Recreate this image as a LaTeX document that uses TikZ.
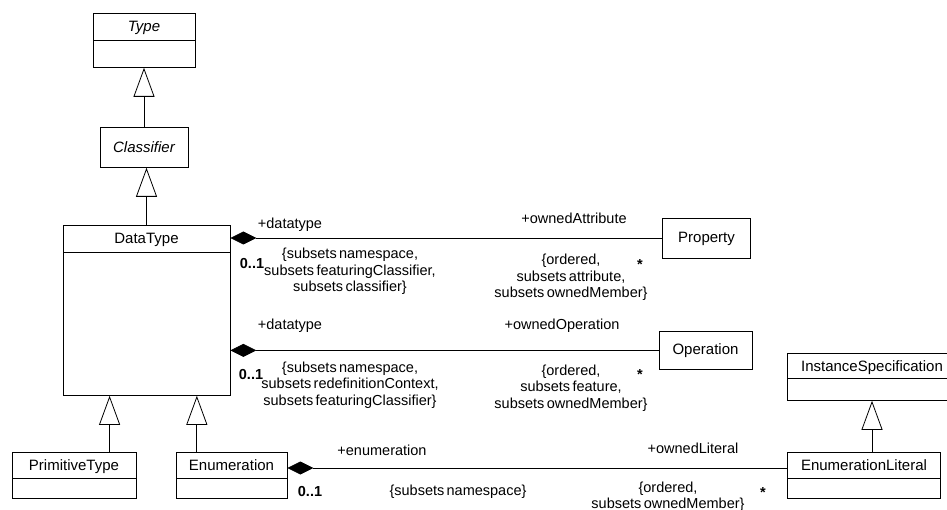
\documentclass[tikz,border=0pt]{standalone}
\usepackage{fontspec}
\setmainfont{Liberation Sans}
\usetikzlibrary{arrows.meta}
\usetikzlibrary{calc}
\newcommand\lblfont{\fontsize{14.5}{16.5}\selectfont\spaceskip=0.16em plus 0.05em\relax}
\tikzset{l/.style={font=\lblfont, inner sep=0pt, align=center}}
\tikzset{box/.style={draw, line width=0.8pt, inner sep=0pt, anchor=north, font=\fontsize{15}{16.5}\selectfont}}
\tikzset{cls/.style={box, text height=18.5pt,
  path picture={\draw[line width=0.8pt] ([yshift=-#1]path picture bounding box.north west) -- ([yshift=-#1]path picture bounding box.north east);}}}
\tikzset{gen/.style={-{Triangle[open, length=29pt, width=21pt, fill=white]}, line width=0.8pt}}
\tikzset{comp/.style={{Diamond[length=26pt, width=13pt]}-, line width=0.8pt}}

\begin{document}
\begin{tikzpicture}[x=1pt, y=-1pt]
  \useasboundingbox (0,0) rectangle (947,510);
  % classes
  \node[cls=27pt, minimum width=102pt, text depth=35.5pt] (T) at (144,13) {\itshape Type};
  \node[box, minimum width=88pt, minimum height=40pt] (C) at (144,127) {\itshape Classifier};
  \node[cls=27pt, minimum width=167pt, text depth=151.5pt] (D) at (146.5,225) {DataType};
  \node[cls=26pt, minimum width=124pt, text depth=27.5pt] (PT) at (74,452) {PrimitiveType};
  \node[cls=26pt, minimum width=111pt, text depth=27.5pt] (E) at (231.5,452) {Enumeration};
  \node[box, minimum width=88pt, minimum height=40pt] (P) at (706.5,218) {Property};
  \node[box, minimum width=93pt, minimum height=38pt] (O) at (705.5,331) {Operation};
  \node[cls=25pt, minimum width=170pt, text depth=28.5pt] (I) at (872,353) {InstanceSpecification};
  \node[cls=26pt, minimum width=153pt, text depth=27.5pt] (EL) at (864,452) {EnumerationLiteral};

  % generalizations
  \coordinate (g1) at ($(D.south west)!0.28!(D.south east)$);
  \coordinate (g2) at ($(D.south west)!0.80!(D.south east)$);
  \draw[gen] (C) -- (T);
  \draw[gen] (D.north) -- (D.north |- C.south);
  \draw[gen] (PT.north -| g1) -- (g1);
  \draw[gen] (E.north -| g2) -- (g2);
  \draw[gen] (EL.north -| I.south) -- (I.south);

  % compositions
  \draw[comp] ([yshift=-13pt]D.north east) -- ([yshift=-13pt]D.north east -| P.west);
  \draw[comp] (D.east |- O.west) -- (O.west);
  \draw[comp] ([yshift=-16pt]E.north east) -- ([yshift=-16pt]E.north east -| EL.west);

  % DataType - Property
  \node[l] (r1) at (290,225) {+datatype};
  \node[l] (r2) at (574,218) {+ownedAttribute};
  \node[l] (m1) at (252,264) {\bfseries 0..1};
  \node[l] (s1) at (350,271.5) {\{subsets namespace,\\subsets featuringClassifier,\\subsets classifier\}};
  \node[l] (s2) at (571,277.5) {\{ordered,\\subsets attribute,\\subsets ownedMember\}};
  \node[l] (m2) at (640,265) {\bfseries *};
  % DataType - Operation
  \node[l] (r3) at (290,326) {+datatype};
  \node[l] (r4) at (562,326) {+ownedOperation};
  \node[l] (m3) at (251,375) {\bfseries 0..1};
  \node[l] (s3) at (350,385) {\{subsets namespace,\\subsets redefinitionContext,\\subsets featuringClassifier\}};
  \node[l] (s4) at (571,388) {\{ordered,\\subsets feature,\\subsets ownedMember\}};
  \node[l] (m4) at (640,375) {\bfseries *};
  % Enumeration - EnumerationLiteral
  \node[l] (r5) at (382,450) {+enumeration};
  \node[l] (r6) at (693,448) {+ownedLiteral};
  \node[l] (m5) at (310,492) {\bfseries 0..1};
  \node[l] (s5) at (458,492) {\{subsets namespace\}};
  \node[l] (s6) at (668,496.5) {\{ordered,\\subsets ownedMember\}};
  \node[l] (m6) at (763,493) {\bfseries *};
\end{tikzpicture}
\end{document}
